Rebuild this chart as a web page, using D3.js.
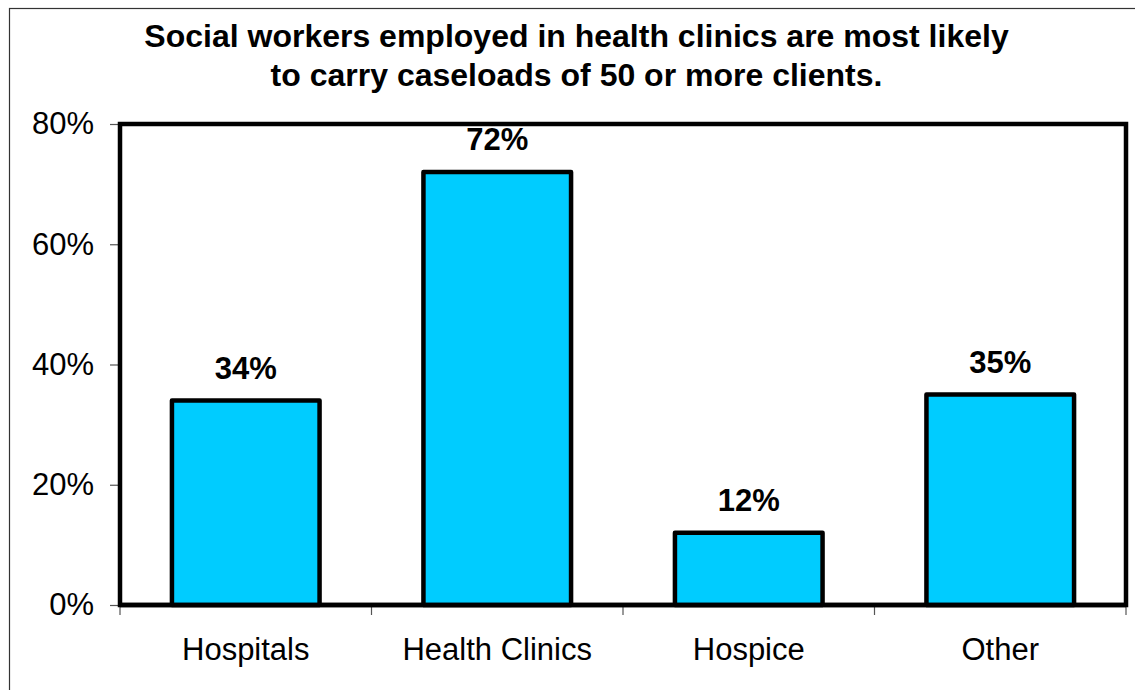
<!DOCTYPE html>
<html>
<head>
<meta charset="utf-8">
<script src="https://cdn.jsdelivr.net/npm/d3@7"></script>
<style>
  html, body { margin: 0; padding: 0; background: #fff; }
  svg { display: block; font-family: "Liberation Sans", Arial, sans-serif; }
</style>
</head>
<body>
<svg id="chart" width="1135" height="690"></svg>
<script>
// Share of social workers carrying caseloads of 50+ clients, by setting
const categories = ["Hospitals", "Health Clinics", "Hospice", "Other"];
const values = [34, 72, 12, 35];
const yTicks = [0, 20, 40, 60, 80];
const titleLines = [
  "Social workers employed in health clinics are most likely",
  "to carry caseloads of 50 or more clients."
];

const svg = d3.select("#chart");
const W = 1135, H = 690;
const plot = { left: 120, top: 124, right: 1126, bottom: 605 };

// Outer chart border (only left and top edges fall inside the frame)
svg.append("rect")
  .attr("x", 9.5).attr("y", 8.5)
  .attr("width", W + 20).attr("height", H + 20)
  .attr("fill", "#fff")
  .attr("stroke", "#333").attr("stroke-width", 1.2);

// Title
svg.append("g").selectAll("text")
  .data(titleLines)
  .join("text")
  .attr("x", 576.5)
  .attr("y", (d, i) => 47 + i * 39)
  .attr("text-anchor", "middle")
  .attr("font-size", 32)
  .attr("font-weight", "bold")
  .attr("fill", "#000")
  .text(d => d);

const x = d3.scaleBand()
  .domain(categories)
  .range([plot.left, plot.right])
  .paddingInner(0).paddingOuter(0);

const y = d3.scaleLinear()
  .domain([0, 80])
  .range([plot.bottom, plot.top]);

const barFrac = 0.587;
const barW = x.bandwidth() * barFrac;

// Y axis ticks and labels
const yAxis = svg.append("g")
  .attr("transform", `translate(${plot.left},0)`)
  .call(d3.axisLeft(y).tickValues(yTicks).tickFormat(d => d + "%").tickSize(10).tickPadding(16));
yAxis.select(".domain").remove();
yAxis.selectAll(".tick line").attr("stroke", "#555").attr("stroke-width", 1.2);
yAxis.selectAll(".tick text")
  .attr("font-size", 31)
  .attr("font-family", "Liberation Sans, Arial, sans-serif")
  .attr("fill", "#000");

// X axis: ticks at category boundaries
const boundaries = categories.map(c => x(c)).concat([x.range()[1]]);
svg.append("g").selectAll("line")
  .data(boundaries)
  .join("line")
  .attr("x1", d => d).attr("x2", d => d)
  .attr("y1", plot.bottom).attr("y2", plot.bottom + 10)
  .attr("stroke", "#555").attr("stroke-width", 1.2);

svg.append("g").selectAll("text")
  .data(categories)
  .join("text")
  .attr("x", d => x(d) + x.bandwidth() / 2)
  .attr("y", 660)
  .attr("text-anchor", "middle")
  .attr("font-size", 31)
  .attr("fill", "#000")
  .text(d => d);

// Plot frame
svg.append("rect")
  .attr("x", plot.left).attr("y", plot.top)
  .attr("width", plot.right - plot.left)
  .attr("height", plot.bottom - plot.top)
  .attr("fill", "none")
  .attr("stroke", "#000").attr("stroke-width", 4.5);

// Bars
svg.append("g").selectAll("rect")
  .data(values)
  .join("rect")
  .attr("x", (d, i) => x(categories[i]) + (x.bandwidth() - barW) / 2)
  .attr("y", d => y(d))
  .attr("width", barW)
  .attr("height", d => y(0) - y(d))
  .attr("fill", "#00CCFF")
  .attr("stroke", "#000").attr("stroke-width", 4.5)
  .attr("stroke-linejoin", "round");

// Redraw baseline over bar bottoms
svg.append("line")
  .attr("x1", plot.left).attr("x2", plot.right)
  .attr("y1", plot.bottom).attr("y2", plot.bottom)
  .attr("stroke", "#000").attr("stroke-width", 4.5);

// Value labels
svg.append("g").selectAll("text")
  .data(values)
  .join("text")
  .attr("x", (d, i) => x(categories[i]) + x.bandwidth() / 2)
  .attr("y", d => y(d) - 22)
  .attr("text-anchor", "middle")
  .attr("font-size", 31)
  .attr("font-weight", "bold")
  .attr("fill", "#000")
  .text(d => d + "%");
</script>
</body>
</html>
